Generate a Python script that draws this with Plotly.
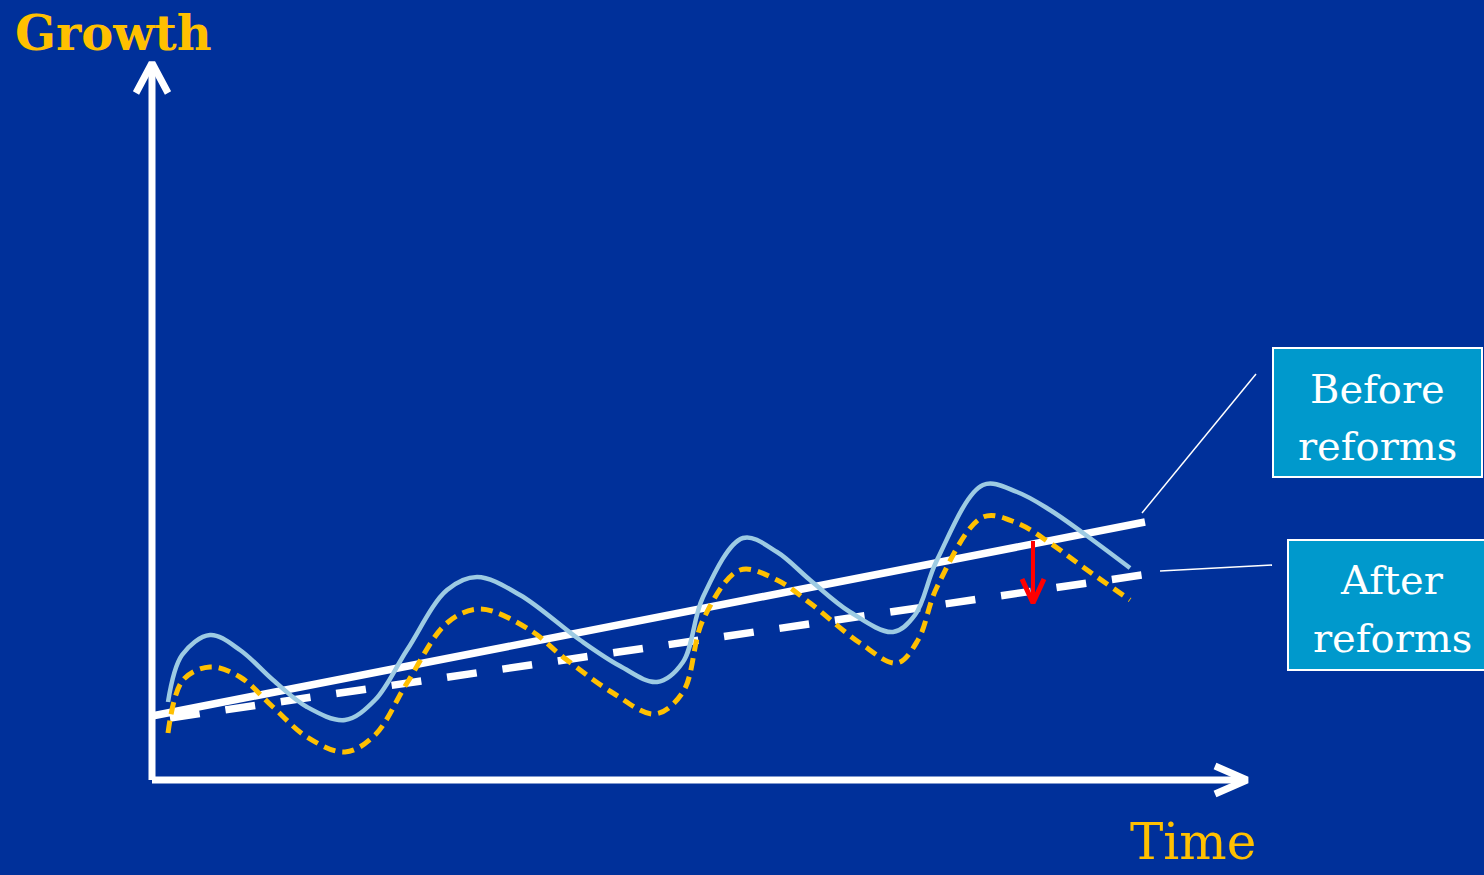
import plotly.graph_objects as go

# ---- data (time units, growth units) ----
blue_t = [1.6, 3.0, 5.8, 8.8, 12.1, 15.5, 19.3, 22.3, 25.5, 29.5, 32.5, 36.8, 42.8, 46.8, 50.5,
          53.1, 55.1, 59.1, 62.5, 65.8, 69.8, 74.1, 76.3, 78.5, 83.1, 86.5, 89.8, 93.1, 97.8]
blue_g = [7.8, 12.5, 14.5, 13.0, 10.0, 7.3, 6.0, 8.0, 13.0, 19.0, 20.3, 18.5, 14.0, 11.4, 9.8,
          11.8, 18.3, 24.2, 22.8, 20.0, 16.8, 14.8, 16.5, 22.0, 29.5, 28.8, 27.0, 24.7, 21.2]

yellow_t = [1.6, 3.1, 5.8, 8.8, 12.1, 15.5, 19.3, 22.3, 25.5, 29.5, 32.8, 37.8, 41.1, 46.1, 50.3,
            53.1, 55.1, 58.8, 62.5, 65.8, 70.8, 74.5, 76.6, 78.5, 83.1, 86.5, 89.8, 93.1, 97.8]
yellow_g = [4.7, 10.0, 11.3, 10.3, 7.3, 4.3, 2.8, 4.5, 9.7, 15.7, 17.1, 15.0, 12.3, 8.7, 6.6,
            8.8, 16.0, 21.0, 20.0, 17.7, 13.7, 11.7, 14.0, 19.3, 26.3, 25.7, 23.7, 21.3, 18.0]

trend_before_t = [0.0, 99.3]
trend_before_g = [6.4, 25.8]
trend_after_t = [1.8, 99.0]
trend_after_g = [6.2, 20.5]

drop_t = [88.1, 88.1]
drop_g = [23.9, 17.9]

BG = "#00309A"
YEL = "#FFC000"
LBLUE = "#9DCBE3"
BOX = "#0099CC"
FONT = "DejaVu Serif"

fig = go.Figure()

def line(x, y, color, width, dash="solid", shape="linear", smoothing=1.0):
    ln = dict(color=color, width=width, dash=dash, shape=shape)
    if shape == "spline":
        ln["smoothing"] = smoothing
    fig.add_trace(go.Scatter(x=x, y=y, mode="lines", hoverinfo="skip", showlegend=False, line=ln))

# axes with arrowheads
line([0, 0], [0, 71.7], "white", 7)
line([-1.6, 0, 1.6], [68.7, 71.7, 68.7], "white", 7)
line([0, 109.5], [0, 0], "white", 7)
line([106.3, 109.5, 106.3], [1.4, 0, -1.4], "white", 7)

# trend lines
line(trend_before_t, trend_before_g, "white", 7.5)
line(trend_after_t, trend_after_g, "white", 7.5, dash="30px,26px")

# cycles
line(blue_t, blue_g, LBLUE, 4.5, shape="spline", smoothing=1.0)
line(yellow_t, yellow_g, YEL, 5, dash="12px,7px", shape="spline", smoothing=1.0)

# red drop arrow
line(drop_t, drop_g, "#FF0000", 4)
line([87.0, 88.1, 89.2], [20.1, 17.7, 20.1], "#FF0000", 5)

# connector lines to labels
line([99.0, 110.4], [26.7, 40.6], "white", 1.5)
line([100.8, 112.0], [20.9, 21.5], "white", 1.5)

shapes = [
    dict(type="rect", xref="x", yref="y", x0=112.1, x1=133.0, y0=30.3, y1=43.2,
         fillcolor=BOX, line=dict(color="white", width=2), layer="above"),
    dict(type="rect", xref="x", yref="y", x0=113.6, x1=133.6, y0=11.0, y1=24.0,
         fillcolor=BOX, line=dict(color="white", width=2), layer="above"),
]

def ann(x, y, text, size, color, bold=False):
    t = f"<b>{text}</b>" if bold else text
    return dict(x=x, y=y, xref="x", yref="y", text=t, showarrow=False,
                xanchor="center", yanchor="middle",
                font=dict(family=FONT, size=size, color=color))

annotations = [
    ann(-3.9, 74.7, "Growth", 48, YEL, bold=True),
    ann(104.1, -6.2, "Time", 50, YEL),
    ann(122.5, 39.1, "Before", 40, "white"),
    ann(122.5, 33.4, "reforms", 40, "white"),
    ann(124.0, 20.0, "After", 40, "white"),
    ann(124.0, 14.2, "reforms", 40, "white"),
]

fig.update_layout(
    width=1484, height=875, autosize=False,
    margin=dict(l=0, r=0, t=0, b=0),
    paper_bgcolor=BG, plot_bgcolor=BG,
    xaxis=dict(range=[-15.2, 133.2], visible=False, fixedrange=True),
    yaxis=dict(range=[-9.5, 78.0], visible=False, fixedrange=True),
    shapes=shapes, annotations=annotations, showlegend=False,
)

fig.write_html("out.html", config={"displayModeBar": False})
